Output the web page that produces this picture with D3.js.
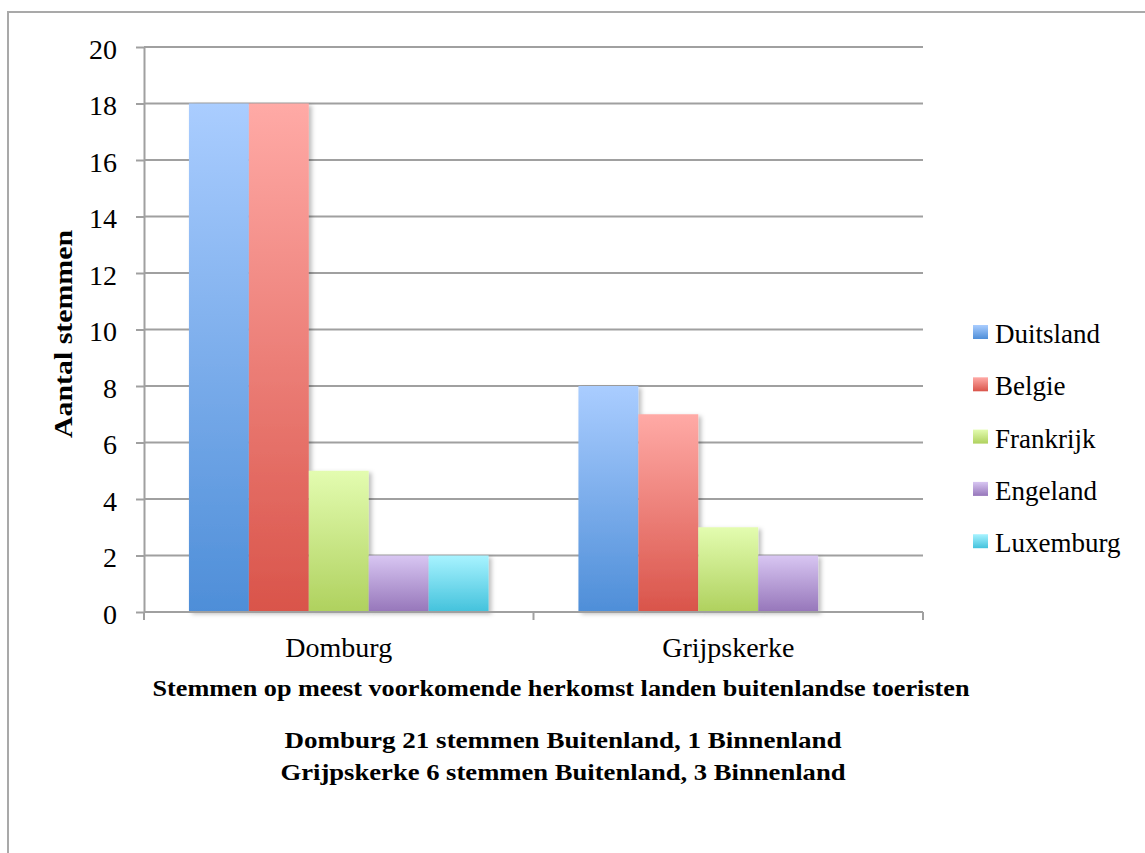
<!DOCTYPE html>
<html>
<head>
<meta charset="utf-8">
<script src="https://cdn.jsdelivr.net/npm/d3@7"></script>
<style>
  html, body { margin: 0; padding: 0; background: #fff; }
  svg { display: block; }
  text { fill: #000; }
</style>
</head>
<body>
<svg id="chart" width="1145" height="853"></svg>
<script>
// Stemmen per herkomstland, per plaats
const categories = ["Domburg", "Grijpskerke"];
const seriesNames = ["Duitsland", "Belgie", "Frankrijk", "Engeland", "Luxemburg"];
const duitsland = [18, 8];
const belgie = [18, 7];
const frankrijk = [5, 3];
const engeland = [2, 2];
const luxemburg = [2, 0];
const yTicks = [0, 2, 4, 6, 8, 10, 12, 14, 16, 18, 20];

const seriesValues = [duitsland, belgie, frankrijk, engeland, luxemburg];
// light (top) and dark (bottom) gradient stops per series
const gradTop = ["#aacdff", "#ffaaa6", "#e3fcb0", "#d8c6f2", "#a8f3ff"];
const gradBottom = ["#4e8ed8", "#d9544a", "#afd15e", "#9676ba", "#43c2dc"];

const svg = d3.select("#chart");
const serif = "'Liberation Serif', 'DejaVu Serif', serif";

const plot = { left: 144, right: 923, top: 47, bottom: 612 };

// outer chart frame
svg.append("rect")
  .attr("x", 8).attr("y", 12)
  .attr("width", 1300).attr("height", 1000)
  .attr("fill", "none").attr("stroke", "#a9a9a9").attr("stroke-width", 2);

const defs = svg.append("defs");
seriesNames.forEach((s, i) => {
  const g = defs.append("linearGradient")
    .attr("id", "grad" + i)
    .attr("x1", 0).attr("y1", 0).attr("x2", 0).attr("y2", 1);
  g.append("stop").attr("offset", "0%").attr("stop-color", gradTop[i]);
  g.append("stop").attr("offset", "100%").attr("stop-color", gradBottom[i]);
});
const shadow = defs.append("filter").attr("id", "shadow")
  .attr("x", "-20%").attr("y", "-20%").attr("width", "150%").attr("height", "150%");
shadow.append("feDropShadow")
  .attr("dx", 3).attr("dy", 2).attr("stdDeviation", 2)
  .attr("flood-color", "#000").attr("flood-opacity", 0.25);

const y = d3.scaleLinear().domain([0, 20]).range([plot.bottom, plot.top]);
const x0 = d3.scaleBand().domain(categories).range([plot.left, plot.right]).padding(0);
const x1 = d3.scaleBand().domain(seriesNames).range([0, x0.bandwidth()])
  .paddingInner(0).paddingOuter(0.75);

// horizontal gridlines
svg.append("g").selectAll("line").data(yTicks).join("line")
  .attr("x1", plot.left).attr("x2", plot.right)
  .attr("y1", d => y(d)).attr("y2", d => y(d))
  .attr("stroke", "#a0a0a0").attr("stroke-width", 2);

// y axis with outward ticks
const yAxis = svg.append("g")
  .attr("transform", `translate(${plot.left},0)`)
  .call(d3.axisLeft(y).tickValues(yTicks).tickSize(8).tickPadding(19).tickSizeOuter(0));
yAxis.select(".domain").attr("stroke", "#a0a0a0").attr("stroke-width", 2);
yAxis.selectAll(".tick line").attr("stroke", "#a0a0a0").attr("stroke-width", 2);
yAxis.selectAll(".tick text")
  .attr("font-family", serif).attr("font-size", 28).attr("dy", "0.4em").attr("fill", "#000");

// bars
const groups = svg.append("g").selectAll("g").data(categories).join("g")
  .attr("transform", d => `translate(${x0(d)},0)`);
groups.selectAll("rect")
  .data((c, ci) => seriesNames.map((s, si) => ({ s, si, v: seriesValues[si][ci] })).filter(d => d.v > 0))
  .join("rect")
  .attr("x", d => x1(d.s))
  .attr("width", x1.bandwidth())
  .attr("y", d => y(d.v))
  .attr("height", d => y(0) - y(d.v))
  .attr("fill", d => `url(#grad${d.si})`)
  .attr("filter", "url(#shadow)");

// x axis (category boundaries as ticks)
const xAxisG = svg.append("g");
xAxisG.append("line")
  .attr("x1", plot.left).attr("x2", plot.right)
  .attr("y1", y(0)).attr("y2", y(0))
  .attr("stroke", "#a0a0a0").attr("stroke-width", 2);
const boundaries = categories.map(c => x0(c)).concat([plot.right]);
xAxisG.selectAll("line.tk").data(boundaries).join("line").attr("class", "tk")
  .attr("x1", d => d).attr("x2", d => d)
  .attr("y1", y(0)).attr("y2", y(0) + 8)
  .attr("stroke", "#a0a0a0").attr("stroke-width", 2);
xAxisG.selectAll("text").data(categories).join("text")
  .attr("x", d => x0(d) + x0.bandwidth() / 2)
  .attr("y", 657)
  .attr("text-anchor", "middle")
  .attr("font-family", serif).attr("font-size", 28)
  .text(d => d);

// axis titles and notes
svg.append("text")
  .attr("transform", "translate(72,334) rotate(-90)")
  .attr("text-anchor", "middle")
  .attr("font-family", serif).attr("font-size", 26).attr("font-weight", "bold")
  .attr("textLength", 208).attr("lengthAdjust", "spacingAndGlyphs")
  .text("Aantal stemmen");

svg.append("text")
  .attr("x", 561).attr("y", 696)
  .attr("text-anchor", "middle")
  .attr("font-family", serif).attr("font-size", 24).attr("font-weight", "bold")
  .attr("textLength", 817).attr("lengthAdjust", "spacingAndGlyphs")
  .text("Stemmen op meest voorkomende herkomst landen buitenlandse toeristen");

const notes = ["Domburg 21 stemmen Buitenland, 1 Binnenland",
               "Grijpskerke 6 stemmen Buitenland, 3 Binnenland"];
const noteWidths = [557, 565];
svg.append("g").selectAll("text").data(notes).join("text")
  .attr("x", 563).attr("y", (d, i) => 748 + i * 31.5)
  .attr("text-anchor", "middle")
  .attr("font-family", serif).attr("font-size", 24).attr("font-weight", "bold")
  .attr("textLength", (d, i) => noteWidths[i]).attr("lengthAdjust", "spacingAndGlyphs")
  .text(d => d);

// legend
const legend = svg.append("g").selectAll("g").data(seriesNames).join("g")
  .attr("transform", (d, i) => `translate(973,${343 + i * 52.3})`);
legend.append("rect")
  .attr("x", 0).attr("y", -18).attr("width", 15).attr("height", 14)
  .attr("fill", (d, i) => `url(#grad${i})`);
legend.append("text")
  .attr("x", 22).attr("y", 0)
  .attr("font-family", serif).attr("font-size", 27)
  .text(d => d);
</script>
</body>
</html>
